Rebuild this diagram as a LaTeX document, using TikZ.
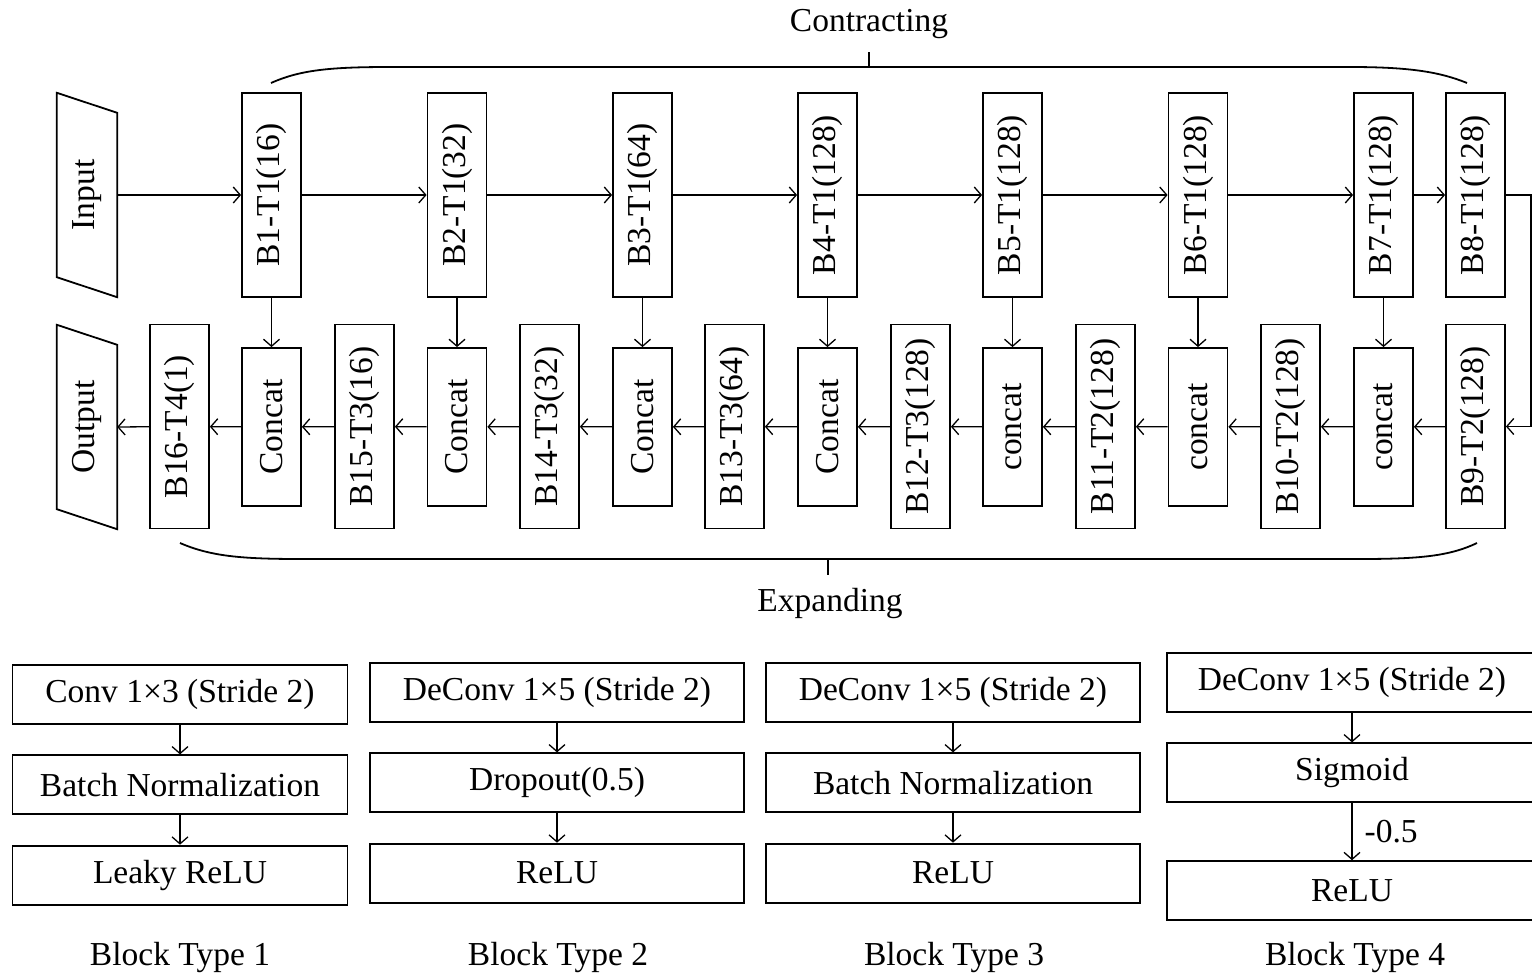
\documentclass[tikz,border=0pt]{standalone}
\usepackage{fontspec}
\setmainfont{Liberation Serif}
\usepackage{graphicx}
\usepackage{tikz}
\usetikzlibrary{shapes, arrows.meta, positioning, calc}
\tikzstyle{block} = [rectangle, draw, line width=1.8pt, minimum width=59pt,
    minimum height=204pt, inner sep=0pt]
\tikzstyle{merge} = [block, minimum height=158pt]
\tikzstyle{io} = [rectangle, minimum width=60pt, minimum height=204pt, inner sep=0pt]
\tikzstyle{layer} = [rectangle, draw, line width=1.8pt, minimum height=59pt, inner sep=0pt]
\tikzstyle{line} = [draw, line width=1.3pt, -{Straight Barb[length=7pt,width=16pt,line width=1.3pt]}]
\tikzstyle{brace} = [draw, line width=1.8pt]
\newcommand{\vtext}[1]{\rotatebox{90}{#1}}

\begin{document}
\begin{tikzpicture}[x=1pt, y=-1pt, node distance = 29.5pt, font=\fontsize{33.5}{40}\selectfont]
      \useasboundingbox (0,0) rectangle (1532,974);
      % Contracting path
      \node [io] (input) at (87,195) {\vtext{Input}};
      \node [block] (b1) at (271.5,195) {\vtext{B1-T1(16)}};
      \node [block] (b2) at (457,195) {\vtext{B2-T1(32)}};
      \node [block] (b3) at (642.5,195) {\vtext{B3-T1(64)}};
      \node [block] (b4) at (827.5,195) {\vtext{B4-T1(128)}};
      \node [block] (b5) at (1012.5,195) {\vtext{B5-T1(128)}};
      \node [block] (b6) at (1198,195) {\vtext{B6-T1(128)}};
      \node [block] (b7) at (1383.5,195) {\vtext{B7-T1(128)}};
      \node [block] (b8) at (1475.5,195) {\vtext{B8-T1(128)}};
      % Expanding path
      \node [io] (output) at (87,427) {\vtext{Output}};
      \node [block] (b16) at (179.5,426.5) {\vtext{B16-T4(1)}};
      \node [merge] (c1) at (271.5,427) {\vtext{Concat}};
      \node [block] (b15) at (364.5,426.5) {\vtext{B15-T3(16)}};
      \node [merge] (c2) at (457,427) {\vtext{Concat}};
      \node [block] (b14) at (549.5,426.5) {\vtext{B14-T3(32)}};
      \node [merge] (c3) at (642.5,427) {\vtext{Concat}};
      \node [block] (b13) at (734.5,426.5) {\vtext{B13-T3(64)}};
      \node [merge] (c4) at (827.5,427) {\vtext{Concat}};
      \node [block] (b12) at (920.5,426.5) {\vtext{B12-T3(128)}};
      \node [merge] (c5) at (1012.5,427) {\vtext{concat}};
      \node [block] (b11) at (1105.5,426.5) {\vtext{B11-T2(128)}};
      \node [merge] (c6) at (1198,427) {\vtext{concat}};
      \node [block] (b10) at (1290.5,426.5) {\vtext{B10-T2(128)}};
      \node [merge] (c7) at (1383.5,427) {\vtext{concat}};
      \node [block] (b9) at (1475.5,426.5) {\vtext{B9-T2(128)}};
      % Input / output shapes
      \draw [line width=1.8pt] (input.north west) -- ($(input.north east)+(0,20)$)
          -- (input.south east) -- ($(input.south west)+(0,-20)$) -- cycle;
      \draw [line width=1.8pt] (output.north west) -- ($(output.north east)+(0,20)$)
          -- (output.south east) -- ($(output.south west)+(0,-20)$) -- cycle;
      % Braces
      \node (contracting) at (869,24) {Contracting};
      \node (expanding) at (830,603) {Expanding};
      \path [brace] (271,83) .. controls (300,70) and (330,67) .. (390,67) -- (1350,67)
          .. controls (1410,67) and (1440,72) .. (1467,83);
      \path [brace] (869,67) -- (869,52);
      \path [brace] (180,543) .. controls (210,556) and (240,559) .. (300,559) -- (1360,559)
          .. controls (1420,559) and (1450,556) .. (1477,543);
      \path [brace] (828,559) -- (828,575);
      % Draw edges
      \path [line] (input.east) -- (b1);
      \path [line] (b1) -- (b2);
      \path [line] (b2) -- (b3);
      \path [line] (b3) -- (b4);
      \path [line] (b4) -- (b5);
      \path [line] (b5) -- (b6);
      \path [line] (b6) -- (b7);
      \path [line] (b7) -- (b8);
      \path [line] (b1) -- (c1);
      \path [line] (b2) -- (c2);
      \path [line] (b3) -- (c3);
      \path [line] (b4) -- (c4);
      \path [line] (b5) -- (c5);
      \path [line] (b6) -- (c6);
      \path [line] (b7) -- (c7);
      \path [line] (b8.east) -- ++(25,0) |- (b9.east);
      \path [line] (b9) -- (c7);
      \path [line] (c7) -- (b10);
      \path [line] (b10) -- (c6);
      \path [line] (c6) -- (b11);
      \path [line] (b11) -- (c5);
      \path [line] (c5) -- (b12);
      \path [line] (b12) -- (c4);
      \path [line] (c4) -- (b13);
      \path [line] (b13) -- (c3);
      \path [line] (c3) -- (b14);
      \path [line] (b14) -- (c2);
      \path [line] (c2) -- (b15);
      \path [line] (b15) -- (c1);
      \path [line] (c1) -- (b16);
      \path [line] (b16) -- (output.east);
      % Block type 1
      \node [layer, minimum width=335pt] (conv-t1) at (180,694.5) {Conv 1×3 (Stride 2)};
      \node [layer, minimum width=335pt, below=of conv-t1] (bn-t1) {Batch Normalization};
      \node [layer, minimum width=335pt, below=of bn-t1] (act-t1) {Leaky ReLU};
      \node (type1) at (180,957) {Block Type 1};
      \path [line] (conv-t1) -- (bn-t1);
      \path [line] (bn-t1) -- (act-t1);
      % Block type 2
      \node [layer, minimum width=374pt] (deconv-t2) at (557,692.5) {DeConv 1×5 (Stride 2)};
      \node [layer, minimum width=374pt, below=of deconv-t2] (drop-t2) {Dropout(0.5)};
      \node [layer, minimum width=374pt, below=of drop-t2] (act-t2) {ReLU};
      \node (type2) at (558,957) {Block Type 2};
      \path [line] (deconv-t2) -- (drop-t2);
      \path [line] (drop-t2) -- (act-t2);
      % Block type 3
      \node [layer, minimum width=374pt] (deconv-t3) at (953,692.5) {DeConv 1×5 (Stride 2)};
      \node [layer, minimum width=374pt, below=of deconv-t3] (bn-t3) {Batch Normalization};
      \node [layer, minimum width=374pt, below=of bn-t3] (act-t3) {ReLU};
      \node (type3) at (954,957) {Block Type 3};
      \path [line] (deconv-t3) -- (bn-t3);
      \path [line] (bn-t3) -- (act-t3);
      % Block type 4
      \node [layer, minimum width=370pt] (deconv-t4) at (1352,682.5) {DeConv 1×5 (Stride 2)};
      \node [layer, minimum width=370pt, below=of deconv-t4] (sig-t4) {Sigmoid};
      \node [layer, minimum width=370pt, below=57pt of sig-t4] (act-t4) {ReLU};
      \node (type4) at (1355,957) {Block Type 4};
      \path [line] (deconv-t4) -- (sig-t4);
      \path [line] (sig-t4) -- node [right, inner sep=12pt] {-0.5} (act-t4);
  \end{tikzpicture}
\end{document}
